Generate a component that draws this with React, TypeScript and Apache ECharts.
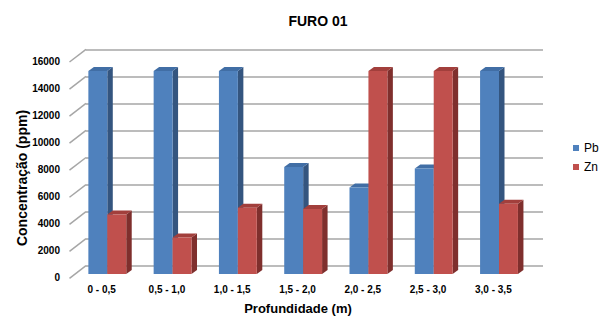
import React, { useEffect, useRef } from "react";
import * as echarts from "echarts";

const categories = ["0 - 0,5", "0,5 - 1,0", "1,0 - 1,5", "1,5 - 2,0", "2,0 - 2,5", "2,5 - 3,0", "3,0 - 3,5"];
const pbValues = [15000, 15000, 15000, 7900, 6400, 7800, 15000];
const znValues = [4400, 2700, 4900, 4800, 15000, 15000, 5200];
const yTicks = [0, 2000, 4000, 6000, 8000, 10000, 12000, 14000, 16000];

const FONT = "'Liberation Sans', Arial, sans-serif";

function makeBar3D(isLeft: boolean, front: string, side: string, top: string) {
  return (params: any, api: any) => {
    const idx = api.value(0);
    const v = api.value(1);
    const base = api.coord([idx, 0]);
    const tp = api.coord([idx, v]);
    const band = api.size([1, 0])[0];
    const w = band * 0.29;
    const x0 = isLeft ? base[0] - w : base[0];
    const x1 = x0 + w;
    const dx = 5.5;
    const dy = -4;
    return {
      type: "group",
      children: [
        {
          type: "polygon",
          shape: { points: [[x1, base[1]], [x1 + dx, base[1] + dy], [x1 + dx, tp[1] + dy], [x1, tp[1]]] },
          style: { fill: side },
        },
        {
          type: "polygon",
          shape: { points: [[x0, tp[1]], [x0 + dx, tp[1] + dy], [x1 + dx, tp[1] + dy], [x1, tp[1]]] },
          style: { fill: top },
        },
        {
          type: "rect",
          shape: { x: x0, y: tp[1], width: w, height: base[1] - tp[1] },
          style: { fill: front },
        },
      ],
    };
  };
}

export default function App() {
  const ref = useRef<HTMLDivElement>(null);
  useEffect(() => {
    document.body.style.margin = "0";
    const chart = echarts.init(ref.current!, null, { renderer: "svg" });
    const option: any = {
      animation: false,
      backgroundColor: "#ffffff",
      textStyle: { fontFamily: FONT },
      grid: [
        { left: 86, top: 49.3, width: 457, height: 216.4 },
        { left: 69, top: 61.7, width: 457, height: 215.6 },
        { left: 74.65, top: 57.5, width: 457, height: 216.5 },
      ],
      xAxis: [
        { type: "category", gridIndex: 0, data: categories, show: false },
        {
          type: "category",
          gridIndex: 1,
          data: categories,
          axisLine: { show: false },
          axisTick: { show: false },
          axisLabel: { color: "#000", fontWeight: "bold", fontSize: 10, fontFamily: FONT, margin: 7, interval: 0 },
        },
        { type: "category", gridIndex: 2, data: categories, show: false },
      ],
      yAxis: [
        {
          type: "value",
          gridIndex: 0,
          min: 0,
          max: 16000,
          interval: 2000,
          axisLabel: { show: false },
          axisLine: { show: false },
          axisTick: { show: false },
          splitLine: { show: true, lineStyle: { color: "#a6a6a6", width: 1.5 } },
        },
        {
          type: "value",
          gridIndex: 1,
          min: 0,
          max: 16000,
          interval: 2000,
          axisLine: { show: false },
          axisTick: { show: false },
          splitLine: { show: false },
          axisLabel: {
            color: "#000",
            fontWeight: "bold",
            fontSize: 10,
            fontFamily: FONT,
            margin: 9,
            formatter: (v: number) => String(v),
          },
        },
        { type: "value", gridIndex: 2, min: 0, max: 16000, interval: 2000, show: false, splitLine: { show: false } },
      ],
      legend: {
        orient: "vertical",
        left: 568,
        top: 137,
        icon: "rect",
        itemWidth: 6,
        itemHeight: 6,
        itemGap: 7,
        textStyle: { fontSize: 12, color: "#000", fontFamily: FONT },
        data: ["Pb", "Zn"],
      },
      title: {
        text: "FURO 01",
        left: 313,
        top: 9,
        textAlign: "center",
        textStyle: { fontSize: 14, fontWeight: "bold", color: "#000", fontFamily: FONT },
      },
      graphic: [
        {
          type: "text",
          x: 21.5,
          y: 178,
          rotation: Math.PI / 2,
          style: {
            text: "Concentração (ppm)",
            fontSize: 14,
            fontWeight: "bold",
            fill: "#000",
            fontFamily: FONT,
            align: "center",
            verticalAlign: "middle",
          },
        },
        {
          type: "text",
          x: 298,
          y: 308,
          style: {
            text: "Profundidade (m)",
            fontSize: 13,
            fontWeight: "bold",
            fill: "#000",
            fontFamily: FONT,
            align: "center",
            verticalAlign: "middle",
          },
        },
      ],
      series: [
        {
          type: "custom",
          name: "ticks",
          xAxisIndex: 0,
          yAxisIndex: 0,
          silent: true,
          data: yTicks.map((t) => [0, t]),
          renderItem: (params: any, api: any) => {
            const p = api.coord([0, api.value(1)]);
            const x = params.coordSys.x;
            return {
              type: "line",
              shape: { x1: x - 16.5, y1: p[1] + 12.7, x2: x, y2: p[1] },
              style: { stroke: "#a6a6a6", lineWidth: 1.5 },
            };
          },
        },
        {
          type: "custom",
          name: "Pb",
          xAxisIndex: 2,
          yAxisIndex: 2,
          itemStyle: { color: "#4F81BD" },
          data: pbValues.map((v, i) => [i, v]),
          encode: { x: 0, y: 1 },
          renderItem: makeBar3D(true, "#4F81BD", "#34557f", "#416ea5"),
        },
        {
          type: "custom",
          name: "Zn",
          xAxisIndex: 2,
          yAxisIndex: 2,
          itemStyle: { color: "#C0504D" },
          data: znValues.map((v, i) => [i, v]),
          encode: { x: 0, y: 1 },
          renderItem: makeBar3D(false, "#C0504D", "#7f2f2d", "#a23f3c"),
        },
      ],
    };
    chart.setOption(option);
    return () => chart.dispose();
  }, []);
  return <div ref={ref} style={{ width: 611, height: 320 }} />;
}
